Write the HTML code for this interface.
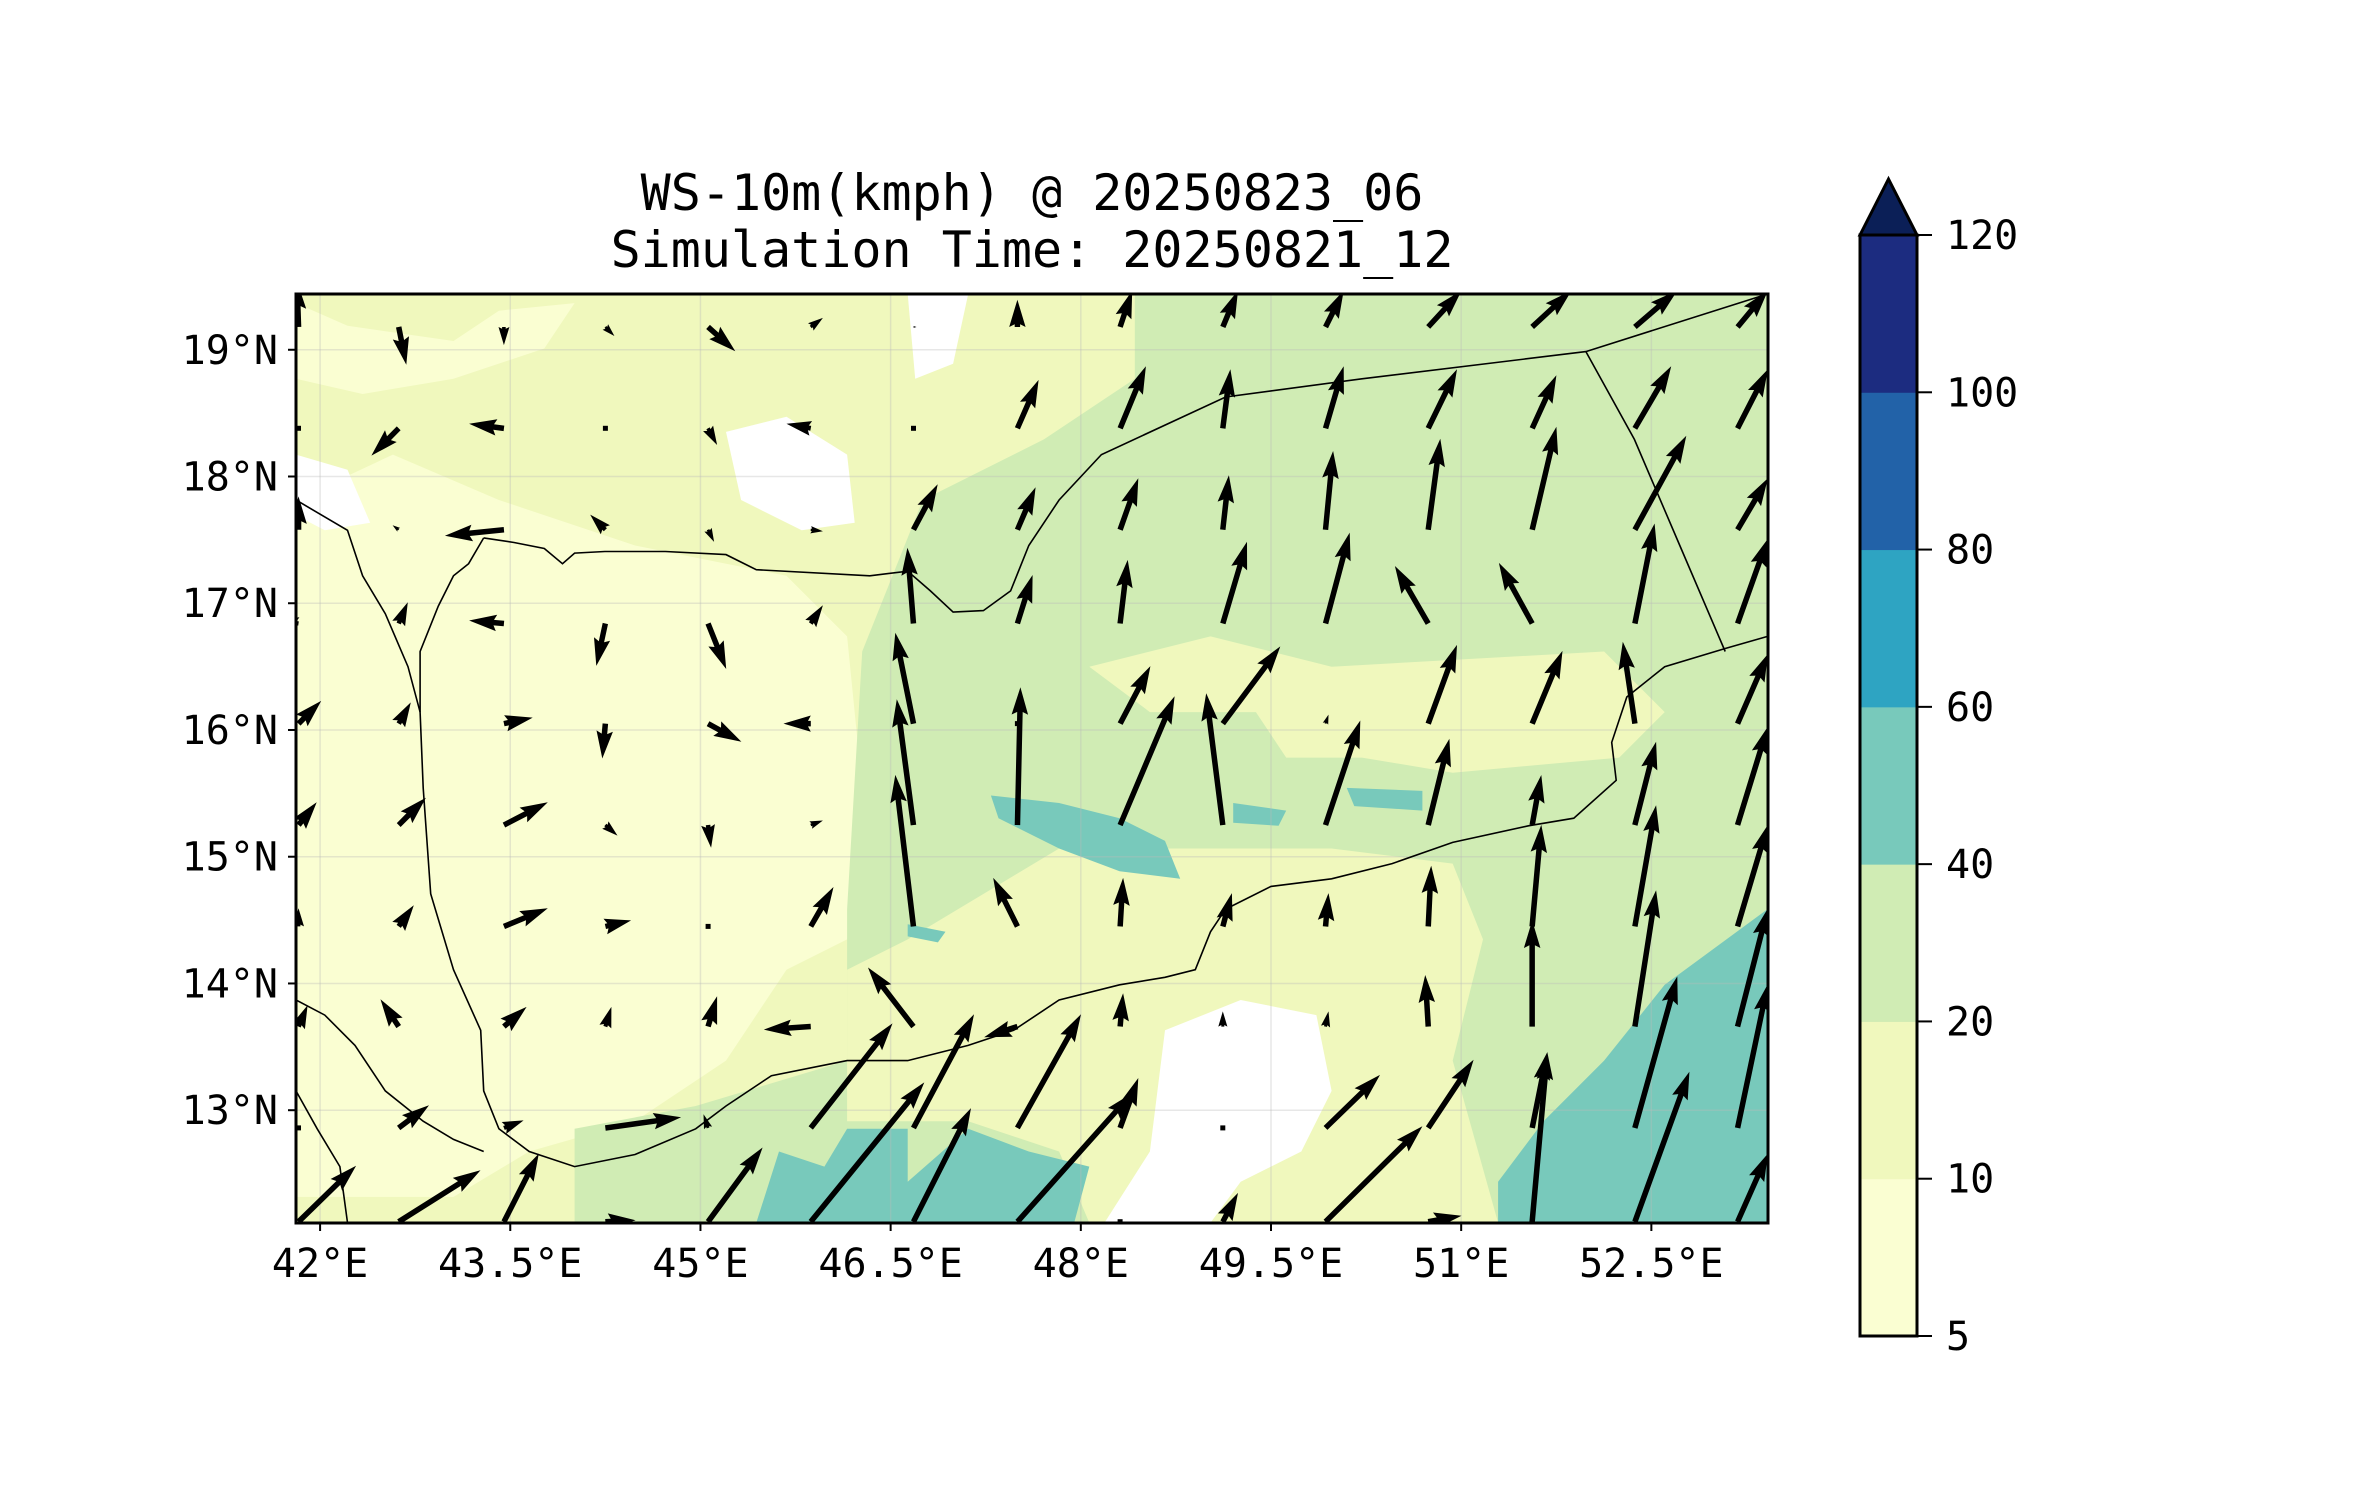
<!DOCTYPE html>
<html><head><meta charset="utf-8"><style>
html,body{margin:0;padding:0;background:#fff;}
svg{display:block;}
text{font-family:"DejaVu Sans Mono","Liberation Mono",monospace;fill:#000;}
</style></head><body>
<svg id="fig" width="2371" height="1500" viewBox="0 0 2371 1500" xmlns="http://www.w3.org/2000/svg">
<defs><clipPath id="axclip"><rect x="296" y="294" width="1472" height="929"/></clipPath></defs>
<rect width="2371" height="1500" fill="#fff"/>
<text x="1032" y="210" font-size="50" text-anchor="middle">WS-10m(kmph) @ 20250823_06</text>
<text x="1032" y="267" font-size="50" text-anchor="middle">Simulation Time: 20250821_12</text>
<g id="map" clip-path="url(#axclip)"></g>
<rect x="296" y="294" width="1472" height="929" fill="none" stroke="#000" stroke-width="3"/>
<g id="ticks"></g>
<g id="cbar"></g>
</svg>
<script>
const lonTicks = [42, 43.5, 45, 46.5, 48, 49.5, 51, 52.5];
const lonTickLabels = ["42°E","43.5°E","45°E","46.5°E","48°E","49.5°E","51°E","52.5°E"];
const latTicks = [13, 14, 15, 16, 17, 18, 19];
const latTickLabels = ["13°N","14°N","15°N","16°N","17°N","18°N","19°N"];
const cbLevels = [5, 10, 20, 40, 60, 80, 100, 120];
const cbColors = ["#fafed2","#f0f8bd","#d0ecb4","#78c9bb","#2ea4c2","#2262a8","#1c2c80"];
const gridLons = [41.83,42.62,43.45,44.25,45.06,45.87,46.68,47.50,48.31,49.12,49.93,50.74,51.56,52.37,53.18];
const gridLats = [19.18,18.38,17.58,16.84,16.05,15.25,14.45,13.66,12.86,12.12];
const windU = [
[-1,5,0,6,18,8,2,0,8,10,12,22,26,28,20],
[0,-18,-23,0,6,-16,0,14,17,5,12,19,16,24,20],
[0,-4,-39,-10,4,8,16,12,12,4,5,8,16,34,20],
[-14,6,-23,-6,12,8,-4,10,5,16,16,-22,-22,13,20],
[15,8,19,-2,22,-18,-12,0,20,38,2,19,20,-8,20],
[12,18,29,8,2,8,-11,2,36,-11,23,14,6,14,20],
[0,10,29,17,0,15,-12,-16,2,6,2,2,6,14,20],
[6,-12,15,4,6,-31,-30,-22,2,0,2,-2,0,14,20],
[0,20,13,50,-3,54,40,42,12,0,36,30,10,28,20],
[38,54,23,20,36,75,38,76,0,10,64,22,10,36,20]];
const windV = [
[30,-25,-12,-6,-16,6,0,18,24,24,24,24,24,24,24],
[0,-18,3,0,-11,3,0,32,41,39,41,39,35,41,39],
[22,3,-4,10,-8,-1,30,28,34,36,52,60,68,62,34],
[2,14,2,-28,-30,12,50,32,42,54,60,38,40,66,56],
[15,14,4,-23,-12,0,60,0,38,51,6,52,48,54,46],
[15,18,15,-7,-15,3,83,91,85,87,69,57,33,55,65],
[12,14,12,4,0,26,100,32,32,22,22,40,67,80,67],
[14,18,13,13,20,-2,39,-7,22,10,10,34,70,90,78],
[0,15,5,7,9,69,75,75,33,0,35,45,50,100,95],
[37,34,45,1,49,92,75,85,0,19,63,4,112,99,45]];

const NS='http://www.w3.org/2000/svg';
const X0=296,X1=1768,Y0=294,Y1=1223,LON0=41.81,LON1=53.42,LAT0=12.11,LAT1=19.44;
function xOf(lon){return X0+(lon-LON0)/(LON1-LON0)*(X1-X0);}
function yOf(lat){return Y1-(lat-LAT0)/(LAT1-LAT0)*(Y1-Y0);}
function D(x,y){return [296+(x-196)*1.514, 294+(y-194)*1.515];}
function el(tag,attrs,parent){const e=document.createElementNS(NS,tag);for(const k in attrs)e.setAttribute(k,attrs[k]);parent.appendChild(e);return e;}
const map=document.getElementById('map');
function poly(pts,fill,name){
  const p=pts.map(q=>D(q[0],q[1]).map(v=>v.toFixed(1)).join(',')).join(' ');
  const e=el('polygon',{points:p,fill:fill},map);
  
  
}
function line(pts,name,w){
  const p=pts.map(q=>D(q[0],q[1]).map(v=>v.toFixed(1)).join(',')).join(' ');
  const e=el('polyline',{points:p,fill:'none',stroke:'#000','stroke-width':w||1.6},map);
  
  
}
const bg=el('rect',{x:X0,y:Y0,width:X1-X0,height:Y1-Y0,fill:'#f0f8bd'},map);


poly([[196,330],[260,300],[330,330],[420,360],[520,380],[560,420],[570,520],[560,620],[520,640],[480,700],[420,740],[350,760],[300,790],[196,790]],'#fafed2','speed-5-10-region');
poly([[196,200],[230,215],[300,225],[330,205],[380,200],[360,230],[300,250],[240,260],[196,250]],'#fafed2','speed-5-10-north');
poly([[480,285],[520,275],[560,300],[565,345],[530,350],[490,330]],'#ffffff','calm-patch-1');
poly([[600,194],[640,194],[630,240],[605,250]],'#ffffff','calm-patch-2');
poly([[196,300],[230,310],[245,345],[215,350],[196,340]],'#ffffff','calm-patch-3');
poly([[560,807],[560,600],[570,430],[610,330],[690,290],[750,250],[750,194],[1168,194],[1168,807]],'#d0ecb4','speed-20-40-region');
poly([[380,807],[380,745],[460,730],[560,700],[600,720],[600,807]],'#d0ecb4','speed-20-40-south');
poly([[720,440],[800,420],[880,440],[1060,430],[1100,470],[1070,500],[960,510],[900,500],[850,500],[830,470],[760,470]],'#f0f8bd','speed-10-20-patch-1');
poly([[600,620],[700,560],[800,560],[880,560],[960,570],[980,620],[960,700],[990,807],[720,807],[700,760],[640,740],[560,740],[560,640]],'#f0f8bd','speed-10-20-patch-2');
poly([[770,680],[820,660],[870,670],[880,720],[860,760],[820,780],[800,807],[730,807],[760,760]],'#ffffff','calm-patch-4');
poly([[1168,600],[1100,650],[1060,700],[1020,740],[990,780],[990,807],[1168,807]],'#78c9bb','speed-40-60-east');
poly([[500,807],[515,760],[545,770],[560,745],[600,745],[600,780],[640,745],[680,760],[720,770],[710,807]],'#78c9bb','speed-40-60-south');
poly([[655,525],[700,530],[740,540],[770,555],[780,580],[740,575],[700,560],[660,540]],'#78c9bb','speed-40-60-center');
poly([[815,530],[850,535],[845,545],[815,543]],'#78c9bb','speed-40-60-patch-a');
poly([[890,520],[940,522],[940,535],[895,532]],'#78c9bb','speed-40-60-patch-b');
poly([[600,610],[625,615],[620,622],[600,618]],'#78c9bb','speed-40-60-patch-c');
lonTicks.forEach((lo,i)=>{const e=el('line',{x1:xOf(lo),x2:xOf(lo),y1:Y0,y2:Y1,stroke:'#bbb','stroke-opacity':0.35,'stroke-width':1.5},map);

});
latTicks.forEach((la,i)=>{const e=el('line',{x1:X0,x2:X1,y1:yOf(la),y2:yOf(la),stroke:'#bbb','stroke-opacity':0.35,'stroke-width':1.5},map);

});
line([[196,330],[230,350],[240,380],[255,405],[270,440],[278,470]],'saudi-red-sea-coast');
line([[320,355],[340,358],[360,362],[372,372],[380,365],[400,364],[440,364],[480,366],[500,376],[575,380],[600,377],[615,390],[630,404],[650,403],[668,390],[680,360],[700,330],[728,300],[810,262],[900,250],[1048,232],[1168,194]],'saudi-yemen-border');
line([[1048,232],[1080,290],[1110,360],[1140,430]],'oman-border');
line([[1168,420],[1140,428],[1100,440],[1075,460],[1065,490],[1068,515],[1040,540],[1010,545],[960,556],[920,570],[880,580],[840,585],[810,600],[800,615],[790,640],[770,645],[740,650],[700,660],[670,680],[640,690],[600,700],[560,700],[510,710],[480,730],[460,745],[420,762],[380,770],[350,760],[330,745],[320,720],[318,680],[300,640],[285,590],[280,520],[278,470],[278,430],[290,400],[300,380],[310,372],[320,355]],'yemen-coastline');
line([[196,660],[215,670],[235,690],[255,720],[280,740],[300,752],[320,760]],'eritrea-coastline');
line([[196,720],[210,745],[225,770],[230,807]],'djibouti-coastline');
const SW=5.5;
for(let j=0;j<gridLats.length;j++){for(let i=0;i<gridLons.length;i++){
  const u=windU[j][i], v=windV[j][i];
  const x=xOf(gridLons[i]), y=yOf(gridLats[j]);
  const dx=u*1.514, dy=-v*1.515; const L=Math.hypot(dx,dy);
  let w=SW, pts;
  if(L<0.5){pts=[[-2.5,-2.5],[2.5,-2.5],[2.5,2.5],[-2.5,2.5]];}
  else{
    if(L<5*SW) w=SW*L/(5*SW);
    const hl=5*w,hal=4.5*w,hw=1.5*w;
    pts=[[0,-w/2],[L-hal,-w/2],[L-hl,-hw],[L,0],[L-hl,hw],[L-hal,w/2],[0,w/2]];
  }
  const a=Math.atan2(dy,dx),c=Math.cos(a),s=Math.sin(a);
  const P=pts.map(p=>(x+p[0]*c-p[1]*s).toFixed(1)+','+(y+p[0]*s+p[1]*c).toFixed(1)).join(' ');
  const e=el('polygon',{points:P,fill:'#000'},map);
  
  
}}
const tk=document.getElementById('ticks');
lonTicks.forEach((lo,i)=>{
  const t=el('line',{x1:xOf(lo),x2:xOf(lo),y1:Y1,y2:Y1+8,stroke:'#000','stroke-width':2},tk);
  
  
  const e=el('text',{x:xOf(lo),y:1277,'font-size':40,'text-anchor':'middle'},tk);e.textContent=lonTickLabels[i];
  
  
});
latTicks.forEach((la,i)=>{
  const t=el('line',{x1:X0-8,x2:X0,y1:yOf(la),y2:yOf(la),stroke:'#000','stroke-width':2},tk);
  
  
  const e=el('text',{x:278,y:yOf(la)+14,'font-size':40,'text-anchor':'end'},tk);e.textContent=latTickLabels[i];
  
  
});
const cb=document.getElementById('cbar');
const CX0=1860,CX1=1917,CYT=235,CYB=1336;
const nB=cbColors.length, bh=(CYB-CYT)/nB;
cbColors.forEach((col,k)=>{
  const r=el('rect',{x:CX0,y:CYB-(k+1)*bh,width:CX1-CX0,height:bh+0.5,fill:col},cb);
  
  
});
const tri=el('polygon',{points:`${CX0},${CYT} ${(CX0+CX1)/2},179 ${CX1},${CYT}`,fill:'#0b1f57',stroke:'#000','stroke-width':3},cb);


const fr=el('rect',{x:CX0,y:CYT,width:CX1-CX0,height:CYB-CYT,fill:'none',stroke:'#000','stroke-width':3},cb);


cbLevels.forEach((lv,k)=>{
  const yy=CYB-k*bh;
  const t=el('line',{x1:CX1,x2:CX1+15,y1:yy,y2:yy,stroke:'#000','stroke-width':2},cb);
  
  
  const e=el('text',{x:1946,y:yy+14,'font-size':40},cb);e.textContent=String(lv);
  
  
});
</script>
</body></html>
